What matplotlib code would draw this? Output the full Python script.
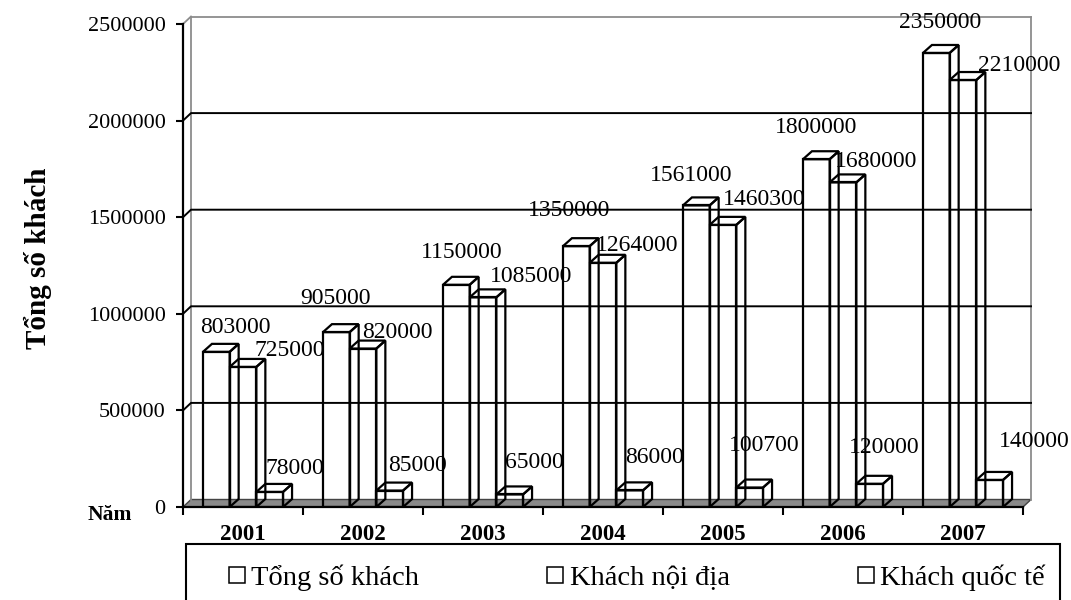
import matplotlib
matplotlib.use("Agg")
import matplotlib.pyplot as plt
from matplotlib.lines import Line2D
from matplotlib.patches import Polygon, Rectangle
import numpy as np

# Số liệu khách du lịch theo năm
nam = ["2001", "2002", "2003", "2004", "2005", "2006", "2007"]
tong_so_khach = [803000, 905000, 1150000, 1350000, 1561000, 1800000, 2350000]
khach_noi_dia = [725000, 820000, 1085000, 1264000, 1460300, 1680000, 2210000]
khach_quoc_te = [78000, 85000, 65000, 86000, 100700, 120000, 140000]
ten_chuoi = ["Tổng số khách", "Khách nội địa", "Khách quốc tế"]

# Vị trí nhãn số liệu (pixel, so với tâm mặt trên phía trước của cột; dương = lên trên)
lech_nhan = [
    [(19, 24), (-1, 34), (5, 32), (-7, 36), (-5, 30), (0, 32), (4, 30)],
    [(47, 16), (34, 16), (48, 21), (34, 17), (41, 25), (33, 21), (56, 15)],
    [(25, 23), (28, 25), (25, 32), (25, 33), (15, 42), (15, 36), (45, 38)],
]

SERIF = ["Liberation Serif", "DejaVu Serif"]
plt.rcParams["font.family"] = SERIF

YMAX = 2500000
W = 0.2225                 # bề rộng cột (đơn vị danh mục)
PX_X = 7 / 840             # 1 pixel theo trục x
PX_Y = YMAX / 483          # 1 pixel theo trục y
BAR_DX, BAR_DY = 9 * PX_X, 8 * PX_Y      # chiều sâu cột
WALL_DX, WALL_DY = 8 * PX_X, 7.5 * PX_Y  # chiều sâu tường

fig = plt.figure(figsize=(10.71, 6), dpi=100)
ax = fig.add_axes([183 / 1071, 93 / 600, 840 / 1071, 483 / 600])
ax.set_xlim(0, len(nam))
ax.set_ylim(0, YMAX)

# sàn
n = len(nam)
ax.add_patch(Polygon([(0, 0), (n, 0), (n + WALL_DX, WALL_DY), (WALL_DX, WALL_DY)],
                     closed=True, fc="#8a8a8a", ec="#444444", lw=1.0, zorder=1, clip_on=False))

# tường sau và tường trái
gray = "#8c8c8c"
top = YMAX + WALL_DY
ax.plot([WALL_DX, n + WALL_DX], [top, top], color=gray, lw=1.3, clip_on=False, zorder=1)
ax.plot([n + WALL_DX, n + WALL_DX], [WALL_DY, top], color=gray, lw=1.3, clip_on=False, zorder=1)
ax.plot([WALL_DX, WALL_DX], [WALL_DY, top], color=gray, lw=1.3, clip_on=False, zorder=1)
ax.plot([0, WALL_DX], [YMAX, top], color=gray, lw=1.3, clip_on=False, zorder=1)

# lưới ngang trên tường sau
for v in np.arange(500000, YMAX, 500000):
    ax.plot([0, WALL_DX, n + WALL_DX], [v, v + WALL_DY, v + WALL_DY],
            color="black", lw=1.4, clip_on=False, zorder=1.5)

# cột 3D dạng khung
x = np.arange(n) + 0.5
chuoi = [tong_so_khach, khach_noi_dia, khach_quoc_te]
for k, vals in enumerate(chuoi):
    xc = x + (k - 1) * W
    ax.bar(xc, vals, width=W, fill=False, edgecolor="black", linewidth=1.6, zorder=3)
    for j, v in enumerate(vals):
        x0, x1 = xc[j] - W / 2, xc[j] + W / 2
        ax.add_patch(Polygon([(x0, v), (x1, v), (x1 + BAR_DX, v + BAR_DY), (x0 + BAR_DX, v + BAR_DY)],
                             closed=True, fill=False, ec="black", lw=1.6, zorder=3, clip_on=False))
        ax.add_patch(Polygon([(x1, 0), (x1, v), (x1 + BAR_DX, v + BAR_DY), (x1 + BAR_DX, BAR_DY)],
                             closed=True, fill=False, ec="black", lw=1.6, zorder=3, clip_on=False))
        dx, dy = lech_nhan[k][j]
        ax.annotate(f"{v}", (xc[j], v), xytext=(dx, dy), textcoords="offset pixels",
                    ha="center", va="center", fontsize=17, zorder=4, annotation_clip=False)

# trục
for s in ("top", "right"):
    ax.spines[s].set_visible(False)
for s in ("left", "bottom"):
    ax.spines[s].set_linewidth(1.6)
    ax.spines[s].set_zorder(5)
ax.set_yticks(np.arange(0, YMAX + 1, 500000))
ax.set_yticklabels([f"{int(t)}" for t in np.arange(0, YMAX + 1, 500000)])
ax.tick_params(axis="y", direction="out", length=5, width=1.5, labelsize=16, pad=7.5)
ax.set_xticks(np.arange(n + 1))
ax.set_xticklabels([])
ax.tick_params(axis="x", which="major", direction="out", length=5.5, width=1.5)
ax.set_xticks(x, minor=True)
ax.set_xticklabels(nam, minor=True, fontsize=16.5, fontweight="bold")
ax.tick_params(axis="x", which="minor", length=0, pad=12)

ax.annotate("Năm", (0, 0), xycoords="axes fraction", xytext=(-73, -8),
            textcoords="offset pixels", ha="center", va="center",
            fontsize=15.5, fontweight="bold")
fig.text(38 / 1071, 1 - 258 / 600, "Tổng số khách", rotation=90, ha="center", va="center",
         fontsize=21, fontweight="bold")

# chú giải: khung riêng, các mục giãn đều bên trong
fig.add_artist(Rectangle((186 / 1071, -0.05), (1060 - 186) / 1071, (600 - 544) / 600 + 0.05,
                         transform=fig.transFigure, fill=False, ec="black", lw=1.5))
handles = [Line2D([], [], ls="none", marker="s", markersize=11, mfc="white", mec="black", mew=1.1)
           for _ in ten_chuoi]
fig.legend(handles, ten_chuoi, loc="center", ncol=3, mode="expand",
           bbox_to_anchor=(228 / 1071, 22 / 600, (1045 - 228) / 1071, 0),
           prop={"family": SERIF, "size": 20.5}, frameon=False,
           handletextpad=0.2, handlelength=0.6, borderpad=0, borderaxespad=0)

fig.savefig("out.png", dpi=100, facecolor="white")
